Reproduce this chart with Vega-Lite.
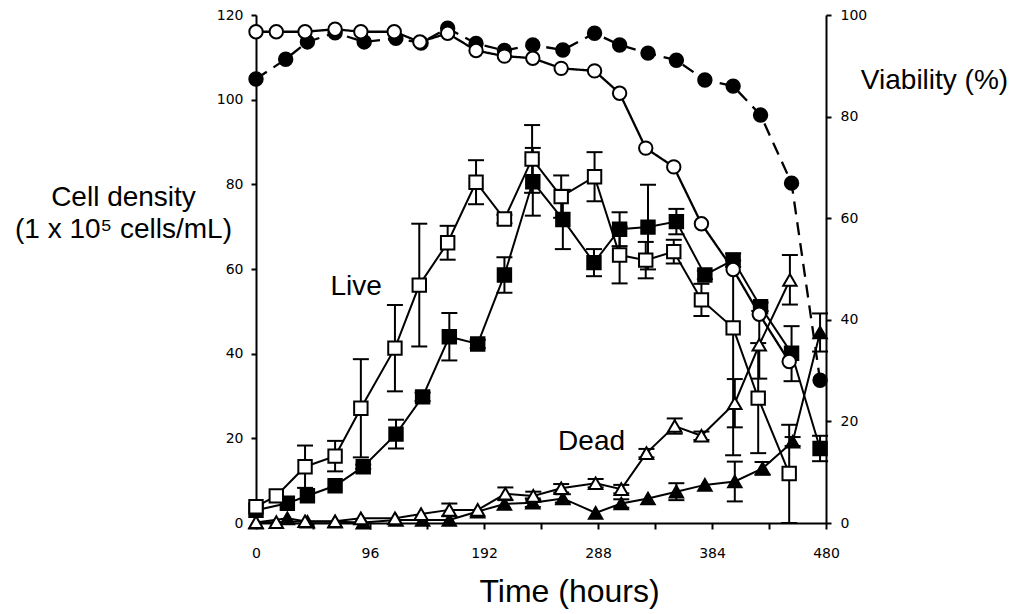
{
  "$schema": "https://vega.github.io/schema/vega-lite/v6.json",
  "width": 570,
  "height": 508,
  "autosize": {"type": "none"},
  "padding": {"left": 256, "top": 15, "right": 190, "bottom": 91},
  "background": "white",
  "config": {
    "view": {"stroke": null},
    "axis": {
      "grid": false,
      "domainColor": "black",
      "domainWidth": 2,
      "tickColor": "black",
      "tickWidth": 2,
      "labelColor": "black",
      "labelFont": "DejaVu Sans",
      "labelFontSize": 14,
      "titleColor": "black",
      "titleFont": "Liberation Sans",
      "titleFontWeight": "normal"
    }
  },
  "datasets": {
    "dens": [
      {"s": "LF", "t": 0, "v": 3.0},
      {"s": "LF", "t": 26.4, "v": 4.65},
      {"s": "LF", "t": 43.3, "v": 6.45},
      {"s": "LF", "t": 66.6, "v": 8.8},
      {"s": "LF", "t": 90.3, "v": 13.3, "lo": 12.8, "hi": 13.8},
      {"s": "LF", "t": 117.9, "v": 21.0, "lo": 17.6, "hi": 24.4},
      {"s": "LF", "t": 140.3, "v": 29.8, "lo": 28.8, "hi": 30.8},
      {"s": "LF", "t": 162.8, "v": 44.0, "lo": 38.4, "hi": 49.6},
      {"s": "LF", "t": 186.7, "v": 42.3, "lo": 41.3, "hi": 43.3},
      {"s": "LF", "t": 209.2, "v": 58.6, "lo": 54.4, "hi": 62.8},
      {"s": "LF", "t": 233.1, "v": 80.6, "lo": 72.6, "hi": 88.6},
      {"s": "LF", "t": 258.4, "v": 71.7, "lo": 64.7, "hi": 78.7},
      {"s": "LF", "t": 284.6, "v": 61.5, "lo": 58.3, "hi": 64.7},
      {"s": "LF", "t": 306.2, "v": 69.4, "lo": 65.4, "hi": 73.4},
      {"s": "LF", "t": 330.1, "v": 69.9, "lo": 59.9, "hi": 79.9},
      {"s": "LF", "t": 354, "v": 71.2, "lo": 68.2, "hi": 74.2},
      {"s": "LF", "t": 378, "v": 58.6, "lo": 57.6, "hi": 59.6},
      {"s": "LF", "t": 401.8, "v": 62.1, "lo": 60.5, "hi": 63.7},
      {"s": "LF", "t": 424.9, "v": 51.1, "lo": 50.1, "hi": 52.1},
      {"s": "LF", "t": 451, "v": 40.1, "lo": 33.5, "hi": 46.5},
      {"s": "LF", "t": 475, "v": 17.6, "lo": 14.6, "hi": 20.6},
      {"s": "LO", "t": 0, "v": 3.85},
      {"s": "LO", "t": 17.1, "v": 6.4},
      {"s": "LO", "t": 41.3, "v": 13.3, "lo": 8.3, "hi": 18.3},
      {"s": "LO", "t": 66.6, "v": 15.8, "lo": 12.2, "hi": 19.4},
      {"s": "LO", "t": 88.3, "v": 27.1, "lo": 15.5, "hi": 38.7},
      {"s": "LO", "t": 117, "v": 41.3, "lo": 31.1, "hi": 51.5},
      {"s": "LO", "t": 137.5, "v": 56.2, "lo": 41.7, "hi": 70.7},
      {"s": "LO", "t": 161.4, "v": 66.2, "lo": 62.2, "hi": 70.2},
      {"s": "LO", "t": 185.3, "v": 80.5, "lo": 75.3, "hi": 85.7},
      {"s": "LO", "t": 209.2, "v": 71.8, "lo": 70.8, "hi": 72.8},
      {"s": "LO", "t": 232.5, "v": 86.0, "lo": 78.0, "hi": 94.0},
      {"s": "LO", "t": 257, "v": 77.1, "lo": 72.1, "hi": 82.1},
      {"s": "LO", "t": 285.1, "v": 81.8, "lo": 76.0, "hi": 87.6},
      {"s": "LO", "t": 306.2, "v": 63.3, "lo": 56.6, "hi": 70.0},
      {"s": "LO", "t": 328.2, "v": 62.1, "lo": 57.8, "hi": 66.4},
      {"s": "LO", "t": 351.8, "v": 64.1, "lo": 61.3, "hi": 66.9},
      {"s": "LO", "t": 375.1, "v": 52.7, "lo": 48.9, "hi": 56.5},
      {"s": "LO", "t": 401.8, "v": 46.1, "lo": 16.0, "hi": 62.0},
      {"s": "LO", "t": 422.9, "v": 29.5, "lo": 16.5, "hi": 42.5},
      {"s": "LO", "t": 449, "v": 11.7, "lo": 0, "hi": 23.2},
      {"s": "DF", "t": 0, "v": 0.1},
      {"s": "DF", "t": 26.4, "v": 1.1},
      {"s": "DF", "t": 43.3, "v": 0.3},
      {"s": "DF", "t": 66.6, "v": 0.3},
      {"s": "DF", "t": 90.3, "v": 0.1},
      {"s": "DF", "t": 117.9, "v": 0.7},
      {"s": "DF", "t": 140.3, "v": 0.7},
      {"s": "DF", "t": 162.8, "v": 0.7},
      {"s": "DF", "t": 186.7, "v": 2.7},
      {"s": "DF", "t": 209.2, "v": 4.5},
      {"s": "DF", "t": 233.1, "v": 4.8, "lo": 3.8, "hi": 5.8},
      {"s": "DF", "t": 258.4, "v": 5.8, "lo": 4.8, "hi": 6.8},
      {"s": "DF", "t": 286, "v": 2.4},
      {"s": "DF", "t": 307.6, "v": 4.6, "lo": 3.6, "hi": 5.6},
      {"s": "DF", "t": 330.1, "v": 5.8},
      {"s": "DF", "t": 354, "v": 7.4, "lo": 5.4, "hi": 9.4},
      {"s": "DF", "t": 378, "v": 9.0},
      {"s": "DF", "t": 403.2, "v": 9.8, "lo": 5.1, "hi": 14.5},
      {"s": "DF", "t": 426.6, "v": 12.9, "lo": 11.4, "hi": 14.4},
      {"s": "DF", "t": 451.9, "v": 19.2, "lo": 18.2, "hi": 20.3},
      {"s": "DF", "t": 475, "v": 45.0, "lo": 40.5, "hi": 49.5},
      {"s": "DO", "t": 0, "v": 0.2},
      {"s": "DO", "t": 17.1, "v": 0.2},
      {"s": "DO", "t": 41.3, "v": 0.4},
      {"s": "DO", "t": 66.6, "v": 0.4},
      {"s": "DO", "t": 88.3, "v": 1.1},
      {"s": "DO", "t": 117, "v": 1.1},
      {"s": "DO", "t": 139, "v": 2.1},
      {"s": "DO", "t": 162.8, "v": 3.1, "lo": 1.6, "hi": 4.6},
      {"s": "DO", "t": 186.7, "v": 3.1},
      {"s": "DO", "t": 210, "v": 6.9, "lo": 5.4, "hi": 8.4},
      {"s": "DO", "t": 233.5, "v": 6.4, "lo": 5.4, "hi": 7.4},
      {"s": "DO", "t": 257, "v": 8.2, "lo": 7.2, "hi": 9.2},
      {"s": "DO", "t": 286, "v": 9.4, "lo": 8.4, "hi": 10.4},
      {"s": "DO", "t": 307.6, "v": 8.0, "lo": 7.0, "hi": 9.0},
      {"s": "DO", "t": 328.8, "v": 16.5, "lo": 15.5, "hi": 17.5},
      {"s": "DO", "t": 352.6, "v": 22.9, "lo": 21.1, "hi": 24.7},
      {"s": "DO", "t": 375.1, "v": 20.6, "lo": 19.6, "hi": 21.6},
      {"s": "DO", "t": 403.2, "v": 28.3, "lo": 22.6, "hi": 34.0},
      {"s": "DO", "t": 423.8, "v": 42.1, "lo": 34.1, "hi": 50.1},
      {"s": "DO", "t": 449.6, "v": 57.4, "lo": 51.6, "hi": 63.3}
    ],
    "via": [
      {"s": "VF", "t": 0, "v": 87.4},
      {"s": "VF", "t": 25, "v": 91.3},
      {"s": "VF", "t": 43.3, "v": 94.7},
      {"s": "VF", "t": 66.6, "v": 96.5},
      {"s": "VF", "t": 91.1, "v": 94.7},
      {"s": "VF", "t": 117.8, "v": 95.4},
      {"s": "VF", "t": 139, "v": 94.5},
      {"s": "VF", "t": 161.4, "v": 97.4},
      {"s": "VF", "t": 185.3, "v": 94.4},
      {"s": "VF", "t": 209.2, "v": 93.0},
      {"s": "VF", "t": 233.1, "v": 94.1},
      {"s": "VF", "t": 258.4, "v": 93.1},
      {"s": "VF", "t": 285.1, "v": 96.4},
      {"s": "VF", "t": 306.2, "v": 94.1},
      {"s": "VF", "t": 330.1, "v": 92.5},
      {"s": "VF", "t": 354, "v": 91.1},
      {"s": "VF", "t": 378, "v": 87.2},
      {"s": "VF", "t": 401.8, "v": 86.0},
      {"s": "VF", "t": 424.9, "v": 80.3},
      {"s": "VF", "t": 451, "v": 66.9},
      {"s": "VF", "t": 475, "v": 28.1},
      {"s": "VO", "t": 0, "v": 96.7},
      {"s": "VO", "t": 17.1, "v": 96.7},
      {"s": "VO", "t": 41.3, "v": 96.7},
      {"s": "VO", "t": 66.6, "v": 97.2},
      {"s": "VO", "t": 88.3, "v": 96.7},
      {"s": "VO", "t": 116.4, "v": 96.7},
      {"s": "VO", "t": 138, "v": 94.7},
      {"s": "VO", "t": 161.4, "v": 96.4},
      {"s": "VO", "t": 185.3, "v": 93.0},
      {"s": "VO", "t": 209.2, "v": 91.9},
      {"s": "VO", "t": 233.1, "v": 91.5},
      {"s": "VO", "t": 257, "v": 89.5},
      {"s": "VO", "t": 285.1, "v": 89.0},
      {"s": "VO", "t": 306.2, "v": 84.6},
      {"s": "VO", "t": 328.2, "v": 73.8},
      {"s": "VO", "t": 351.8, "v": 70.1},
      {"s": "VO", "t": 375.1, "v": 58.9},
      {"s": "VO", "t": 401.8, "v": 49.9},
      {"s": "VO", "t": 423.8, "v": 41.1},
      {"s": "VO", "t": 449, "v": 31.8}
    ],
    "ann": [
      {"label": "Live", "t": 84.4, "v": 55.8},
      {"label": "Dead", "t": 282.6, "v": 19.1}
    ]
  },
  "layer": [
    {
      "layer": [
        {
          "data": {"name": "dens"},
          "mark": {"type": "line", "color": "black", "strokeWidth": 2},
          "encoding": {
            "x": {
              "field": "t", "type": "quantitative",
              "scale": {"domain": [0, 480], "nice": false},
              "axis": {
                "values": [0, 48, 96, 144, 192, 240, 288, 336, 384, 432, 480],
                "labelExpr": "datum.value % 96 == 0 ? datum.label : ''",
                "labelFlush": false,
                "labelOverlap": false,
                "tickSize": 6,
                "labelPadding": 17,
                "title": "Time (hours)",
                "titleFontSize": 32,
                "titleX": 313,
                "titleY": 68,
                "titleAlign": "center",
                "titleBaseline": "middle"
              }
            },
            "y": {
              "field": "v", "type": "quantitative",
              "scale": {"domain": [0, 120], "nice": false},
              "axis": {
                "orient": "left",
                "values": [0, 20, 40, 60, 80, 100, 120],
                "tickSize": 5,
                "labelPadding": 8,
                "title": ["Cell density", "(1 x 10⁵ cells/mL)"],
                "titleFontSize": 28,
                "titleLineHeight": 32,
                "titleAngle": 0,
                "titleX": -133,
                "titleY": 190,
                "titleAlign": "center",
                "titleBaseline": "alphabetic"
              }
            },
            "detail": {"field": "s"}
          }
        },
        {
          "data": {"name": "dens"},
          "transform": [{"filter": "datum.lo != null"}],
          "mark": {"type": "rule", "color": "black", "strokeWidth": 2},
          "encoding": {
            "x": {"field": "t", "type": "quantitative"},
            "y": {"field": "lo", "type": "quantitative"},
            "y2": {"field": "hi"}
          }
        },
        {
          "data": {"name": "dens"},
          "transform": [{"filter": "datum.lo != null"}],
          "mark": {"type": "tick", "orient": "horizontal", "size": 16, "thickness": 2, "color": "black", "opacity": 1},
          "encoding": {
            "x": {"field": "t", "type": "quantitative"},
            "y": {"field": "lo", "type": "quantitative"}
          }
        },
        {
          "data": {"name": "dens"},
          "transform": [{"filter": "datum.hi != null"}],
          "mark": {"type": "tick", "orient": "horizontal", "size": 16, "thickness": 2, "color": "black", "opacity": 1},
          "encoding": {
            "x": {"field": "t", "type": "quantitative"},
            "y": {"field": "hi", "type": "quantitative"}
          }
        },
        {
          "data": {"name": "dens"},
          "mark": {"type": "point", "filled": true, "opacity": 1, "stroke": "black", "strokeWidth": 2},
          "encoding": {
            "x": {"field": "t", "type": "quantitative"},
            "y": {"field": "v", "type": "quantitative"},
            "shape": {"field": "s", "type": "nominal", "legend": null,
              "scale": {"domain": ["LO", "LF", "DO", "DF", "VO", "VF"], "range": ["square", "square", "triangle-up", "triangle-up", "circle", "circle"]}},
            "fill": {"field": "s", "type": "nominal", "legend": null,
              "scale": {"domain": ["LO", "LF", "DO", "DF", "VO", "VF"], "range": ["white", "black", "white", "black", "white", "black"]}},
            "size": {"field": "s", "type": "nominal", "legend": null,
              "scale": {"domain": ["LO", "LF", "DO", "DF", "VO", "VF"], "range": [180, 180, 240, 240, 190, 190]}}
          }
        },
        {
          "data": {"name": "ann"},
          "mark": {"type": "text", "font": "Liberation Sans", "fontSize": 28, "color": "black", "align": "center", "baseline": "middle"},
          "encoding": {
            "x": {"field": "t", "type": "quantitative"},
            "y": {"field": "v", "type": "quantitative"},
            "text": {"field": "label"}
          }
        }
      ]
    },
    {
      "layer": [
        {
          "data": {"name": "via"},
          "mark": {"type": "line", "color": "black", "strokeWidth": 2.3},
          "encoding": {
            "x": {"field": "t", "type": "quantitative"},
            "y": {
              "field": "v", "type": "quantitative",
              "scale": {"domain": [0, 100], "nice": false},
              "axis": {
                "orient": "right",
                "values": [0, 20, 40, 60, 80, 100],
                "tickSize": 5,
                "labelPadding": 9,
                "title": "Viability (%)",
                "titleFontSize": 28,
                "titleAngle": 0,
                "titleX": 108,
                "titleY": 65,
                "titleAlign": "center",
                "titleBaseline": "middle"
              }
            },
            "strokeDash": {"field": "s", "type": "nominal", "legend": null,
              "scale": {"domain": ["VO", "VF"], "range": [[1, 0], [13, 8]]}}
          }
        },
        {
          "data": {"name": "via"},
          "mark": {"type": "point", "filled": true, "opacity": 1, "stroke": "black", "strokeWidth": 2},
          "encoding": {
            "x": {"field": "t", "type": "quantitative"},
            "y": {"field": "v", "type": "quantitative"},
            "shape": {"field": "s", "type": "nominal", "legend": null,
              "scale": {"domain": ["LO", "LF", "DO", "DF", "VO", "VF"], "range": ["square", "square", "triangle-up", "triangle-up", "circle", "circle"]}},
            "fill": {"field": "s", "type": "nominal", "legend": null,
              "scale": {"domain": ["LO", "LF", "DO", "DF", "VO", "VF"], "range": ["white", "black", "white", "black", "white", "black"]}},
            "size": {"field": "s", "type": "nominal", "legend": null,
              "scale": {"domain": ["LO", "LF", "DO", "DF", "VO", "VF"], "range": [180, 180, 240, 240, 190, 190]}}
          }
        }
      ]
    }
  ],
  "resolve": {"scale": {"y": "independent"}}
}
